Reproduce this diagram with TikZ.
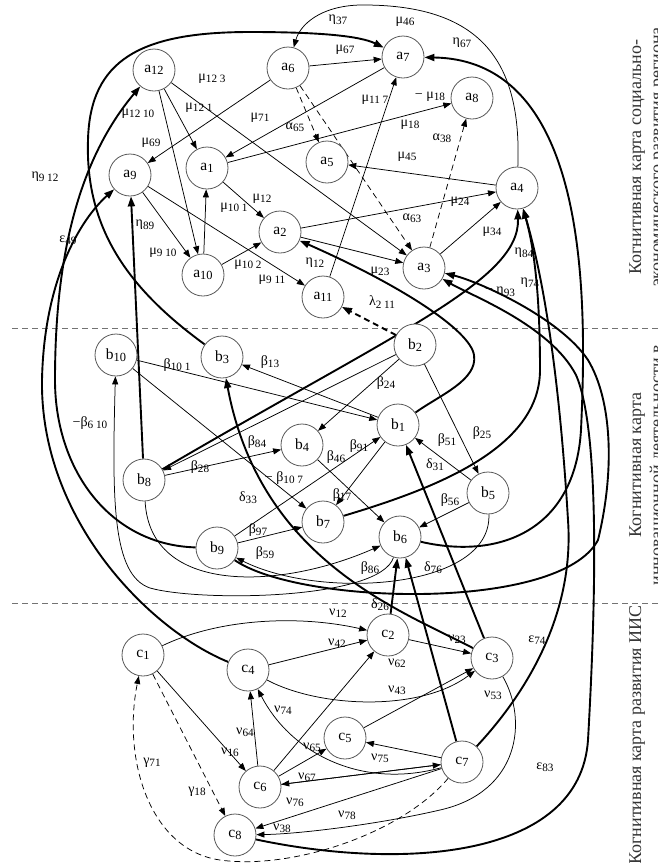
\documentclass[tikz,border=0pt]{standalone}
\usepackage{fontspec}
\usepackage{graphicx}
\setmainfont{Liberation Serif}
\usetikzlibrary{arrows.meta}
\pgfdeclarelayer{bg}
\pgfsetlayers{bg,main}
\newcommand\sbs[1]{\raisebox{-0.35ex}{\scalebox{0.8}{#1}}}
\begin{document}
\begin{tikzpicture}[x=1pt,y=-1pt,
  nd/.style={circle,draw=black!65,line width=0.8pt,fill=white,minimum size=42pt,inner sep=0pt,font=\fontsize{15.5}{15.5}\selectfont},
  lb/.style={inner sep=0pt,font=\fontsize{14}{14}\selectfont},
  ar/.style={-{Triangle[length=8pt,width=6pt]},line width=0.75pt},
  tk/.style={-{Triangle[length=10pt,width=7pt]},line width=1.9pt},
  dsh/.style={dash pattern=on 6pt off 4pt},
  sep/.style={draw=black!55,line width=1pt,dash pattern=on 6pt off 4pt},
  rot/.style={rotate=90,anchor=base,inner sep=0pt,font=\fontsize{18}{18}\selectfont,text=black!80}]
\useasboundingbox (0,0) rectangle (658,863);
% ---------- nodes: level a
\node[nd] (a12) at (154,70) {a\sbs{12}};
\node[nd] (a6) at (288,68) {a\sbs{6}};
\node[nd] (a7) at (403,57) {a\sbs{7}};
\node[nd] (a8) at (472,98) {a\sbs{8}};
\node[nd] (a9) at (130,175) {a\sbs{9}};
\node[nd] (a1) at (207,168) {a\sbs{1}};
\node[nd] (a5) at (327,162) {a\sbs{5}};
\node[nd] (a4) at (517,188) {a\sbs{4}};
\node[nd] (a10) at (203,275) {a\sbs{10}};
\node[nd] (a2) at (280,232) {a\sbs{2}};
\node[nd] (a11) at (323,297) {a\sbs{11}};
\node[nd] (a3) at (424,268) {a\sbs{3}};
% ---------- level b
\node[nd] (b10) at (116,355) {b\sbs{10}};
\node[nd] (b3) at (222,357) {b\sbs{3}};
\node[nd] (b2) at (415,345) {b\sbs{2}};
\node[nd] (b1) at (398,425) {b\sbs{1}};
\node[nd] (b4) at (302,445) {b\sbs{4}};
\node[nd] (b8) at (144,480) {b\sbs{8}};
\node[nd] (b5) at (488,493) {b\sbs{5}};
\node[nd] (b7) at (323,522) {b\sbs{7}};
\node[nd] (b6) at (400,537) {b\sbs{6}};
\node[nd] (b9) at (217,548) {b\sbs{9}};
% ---------- level c
\node[nd] (c1) at (143,655) {c\sbs{1}};
\node[nd] (c4) at (248,670) {c\sbs{4}};
\node[nd] (c2) at (388,635) {c\sbs{2}};
\node[nd] (c3) at (492,658) {c\sbs{3}};
\node[nd] (c5) at (345,738) {c\sbs{5}};
\node[nd] (c7) at (462,762) {c\sbs{7}};
\node[nd] (c6) at (260,787) {c\sbs{6}};
\node[nd] (c8) at (235,835) {c\sbs{8}};
% ---------- separators and side titles
\coordinate (s1l) at (12,328); \coordinate (s1r) at (658,328);
\coordinate (s2l) at (12,603); \coordinate (s2r) at (658,603);
\node[rot] (t1) at (641,157) {Когнитивная карта социально-};
\node[rot] (t2) at (662,157) {экономического развития региона};
\node[rot] (t3) at (641,465) {Когнитивная карта};
\node[rot] (t4) at (662,465) {инновационной деятельности в};
\node[rot] (t5) at (641,735) {Когнитивная карта развития ИИС};
% ---------- labels a
\node[lb] (l1) at (345,50) {μ\sbs{67}};
\node[lb] (l2) at (199,108) {μ\sbs{12 1}};
\node[lb] (l3) at (212,79) {μ\sbs{12 3}};
\node[lb] (l4) at (138,114) {μ\sbs{12 10}};
\node[lb] (l5) at (151,143) {μ\sbs{69}};
\node[lb] (l6) at (260,118) {μ\sbs{71}};
\node[lb] (l7) at (295,127) {α\sbs{65}};
\node[lb] (l8) at (412,218) {α\sbs{63}};
\node[lb] (l9) at (410,125) {μ\sbs{18}};
\node[lb] (l10) at (430,97) {− μ\sbs{18}};
\node[lb] (l11) at (442,138) {α\sbs{38}};
\node[lb] (l12) at (407,157) {μ\sbs{45}};
\node[lb] (l13) at (375,100) {μ\sbs{11 7}};
\node[lb] (l14) at (262,199) {μ\sbs{12}};
\node[lb] (l15) at (234,208) {μ\sbs{10 1}};
\node[lb] (l16) at (163,253) {μ\sbs{9 10}};
\node[lb] (l17) at (248,265) {μ\sbs{10 2}};
\node[lb] (l18) at (272,280) {μ\sbs{9 11}};
\node[lb] (l19) at (460,202) {μ\sbs{24}};
\node[lb] (l20) at (380,272) {μ\sbs{23}};
\node[lb] (l21) at (492,232) {μ\sbs{34}};
\node[lb] (l22) at (405,22) {μ\sbs{46}};
\node[lb] (l23) at (338,20) {η\sbs{37}};
\node[lb] (l24) at (462,43) {η\sbs{67}};
\node[lb] (l25) at (45,177) {η\sbs{9 12}};
\node[lb] (l26) at (68,240) {ε\sbs{49}};
\node[lb] (l27) at (145,225) {η\sbs{89}};
\node[lb] (l28) at (315,263) {η\sbs{12}};
\node[lb] (l29) at (382,302) {λ\sbs{2 11}};
\node[lb] (l30) at (524,253) {η\sbs{84}};
\node[lb] (l31) at (500,292) {− η\sbs{93}};
\node[lb] (l32) at (530,283) {η\sbs{74}};
% ---------- labels b
\node[lb] (m1) at (177,365) {β\sbs{10 1}};
\node[lb] (m2) at (270,362) {β\sbs{13}};
\node[lb] (m3) at (386,383) {β\sbs{24}};
\node[lb] (m4) at (200,467) {β\sbs{28}};
\node[lb] (m5) at (482,433) {β\sbs{25}};
\node[lb] (m6) at (257,442) {β\sbs{84}};
\node[lb] (m7) at (284,478) {− β\sbs{10 7}};
\node[lb] (m8) at (336,457) {β\sbs{46}};
\node[lb] (m9) at (359,446) {β\sbs{91}};
\node[lb] (m10) at (342,495) {β\sbs{17}};
\node[lb] (m11) at (447,440) {β\sbs{51}};
\node[lb] (m12) at (450,500) {β\sbs{56}};
\node[lb] (m13) at (258,530) {β\sbs{97}};
\node[lb] (m14) at (265,553) {β\sbs{59}};
\node[lb] (m15) at (370,568) {β\sbs{86}};
\node[lb] (m16) at (90,423) {−β\sbs{6 10}};
\node[lb] (m17) at (248,498) {δ\sbs{33}};
\node[lb] (m18) at (435,465) {δ\sbs{31}};
\node[lb] (m19) at (433,568) {δ\sbs{76}};
\node[lb] (m20) at (380,605) {δ\sbs{26}};
% ---------- labels c
\node[lb] (n1) at (338,613) {ν\sbs{12}};
\node[lb] (n2) at (337,643) {ν\sbs{42}};
\node[lb] (n3) at (457,639) {ν\sbs{23}};
\node[lb] (n4) at (397,663) {ν\sbs{62}};
\node[lb] (n5) at (397,690) {ν\sbs{43}};
\node[lb] (n6) at (493,695) {ν\sbs{53}};
\node[lb] (n7) at (380,758) {ν\sbs{75}};
\node[lb] (n8) at (283,710) {ν\sbs{74}};
\node[lb] (n9) at (245,732) {ν\sbs{64}};
\node[lb] (n10) at (230,752) {ν\sbs{16}};
\node[lb] (n11) at (312,747) {ν\sbs{65}};
\node[lb] (n12) at (307,777) {ν\sbs{67}};
\node[lb] (n13) at (295,802) {ν\sbs{76}};
\node[lb] (n14) at (347,815) {ν\sbs{78}};
\node[lb] (n15) at (282,828) {ν\sbs{38}};
\node[lb] (n16) at (152,763) {γ\sbs{71}};
\node[lb] (n17) at (197,792) {γ\sbs{18}};
\node[lb] (n18) at (537,640) {ε\sbs{74}};
\node[lb] (n19) at (545,767) {ε\sbs{83}};
% ---------- connectors
\begin{pgfonlayer}{bg}
\fill[white] (0,0) rectangle (658,863);
\draw[sep] (s1l) -- (s1r);
\draw[sep] (s2l) -- (s2r);
% level a, thin
\draw[ar] (a6) -- (a7);
\draw[ar] (a12) -- (a1);
\draw[ar] (a12) -- (a3);
\draw[ar] (a12) -- (a10);
\draw[ar] (a6) -- (a9);
\draw[ar] (a7) -- (a1);
\draw[ar,dsh] (a6) -- (a5);
\draw[ar,dsh] (a6) -- (a3);
\draw[ar] (a1) -- (a8);
\draw[ar,dsh] (a3) -- (a8);
\draw[ar] (a4) -- (a5);
\draw[ar] (a11) -- (a7);
\draw[ar] (a1) -- (a2);
\draw[ar] (a10) -- (a1);
\draw[ar] (a9) -- (a10);
\draw[ar] (a10) -- (a2);
\draw[ar] (a9) -- (a11);
\draw[ar] (a2) -- (a4);
\draw[ar] (a2) -- (a3);
\draw[ar] (a3) -- (a4);
\draw[ar] (a4) .. controls (522,60) and (480,4) .. (360,5) .. controls (320,6) and (300,25) .. (a6);
% between levels, thick
\draw[tk] (b3) .. controls (130,290) and (85,230) .. (88,140) .. controls (90,60) and (140,32) .. (250,32) .. controls (320,32) and (360,36) .. (a7);
\draw[tk] (b9) .. controls (110,545) and (55,470) .. (55,380) .. controls (55,280) and (70,170) .. (a12);
\draw[tk] (c4) .. controls (150,630) and (40,520) .. (42,380) .. controls (44,280) and (80,220) .. (a9);
\draw[tk] (b8) -- (a9);
\draw[tk] (b1) .. controls (440,395) and (478,380) .. (474,355) .. controls (470,330) and (400,285) .. (a2);
\draw[tk,dsh] (b2) -- (a11);
\draw[tk] (b8) .. controls (400,330) and (520,280) .. (a4);
\draw[tk] (b7) .. controls (430,490) and (540,450) .. (540,370) .. controls (540,300) and (535,250) .. (a4);
\draw[tk] (b9) .. controls (300,605) and (560,612) .. (598,540) .. controls (615,470) and (612,400) .. (588,360) .. controls (560,318) and (480,282) .. (a3);
\draw[tk] (c8) .. controls (400,870) and (580,860) .. (588,740) .. controls (596,600) and (600,430) .. (576,375) .. controls (550,325) and (470,295) .. (a3);
\draw[tk] (b6) .. controls (500,560) and (575,530) .. (581,430) .. controls (587,300) and (590,60) .. (a7);
\draw[tk] (c7) .. controls (520,700) and (575,620) .. (568,520) .. controls (562,420) and (550,300) .. (a4);
% level b, thin
\draw[ar] (b10) -- (b1);
\draw[ar] (b1) -- (b3);
\draw[ar] (b2) -- (b4);
\draw[ar] (b2) -- (b8);
\draw[ar] (b2) -- (b5);
\draw[ar] (b8) -- (b4);
\draw[ar] (b10) -- (b7);
\draw[ar] (b4) -- (b6);
\draw[ar] (b9) -- (b1);
\draw[ar] (b1) -- (b7);
\draw[ar] (b5) -- (b1);
\draw[ar] (b5) -- (b6);
\draw[ar] (b9) -- (b7);
\draw[ar] (b5) .. controls (492,590) and (320,600) .. (b9);
\draw[ar] (b8) .. controls (150,595) and (280,590) .. (b6);
\draw[ar] (b6) .. controls (380,600) and (200,602) .. (150,588) .. controls (112,575) and (112,500) .. (b10);
% c to b, thick
\draw[tk] (c3) .. controls (400,610) and (260,560) .. (b3);
\draw[tk] (c3) -- (b1);
\draw[tk] (c7) -- (b6);
\draw[tk] (c2) -- (b6);
% level c, thin
\draw[ar] (c1) .. controls (220,618) and (300,615) .. (c2);
\draw[ar] (c4) -- (c2);
\draw[ar] (c2) -- (c3);
\draw[ar] (c6) -- (c2);
\draw[ar] (c4) .. controls (320,708) and (420,712) .. (c3);
\draw[ar] (c5) -- (c3);
\draw[ar] (c7) -- (c5);
\draw[ar] (c7) .. controls (360,790) and (290,752) .. (c4);
\draw[ar] (c6) -- (c4);
\draw[ar] (c1) -- (c6);
\draw[ar] (c6) -- (c5);
\draw[ar] (c6) -- (c7);
\draw[ar] (c7) -- (c6);
\draw[ar] (c7) -- (c8);
\draw[ar] (c3) .. controls (528,720) and (520,792) .. (440,810) .. controls (380,824) and (300,834) .. (c8);
\draw[ar,dsh] (c7) .. controls (400,835) and (290,870) .. (220,860) .. controls (150,850) and (122,760) .. (c1);
\draw[ar,dsh] (c1) -- (c8);
\end{pgfonlayer}
\end{tikzpicture}
\end{document}
